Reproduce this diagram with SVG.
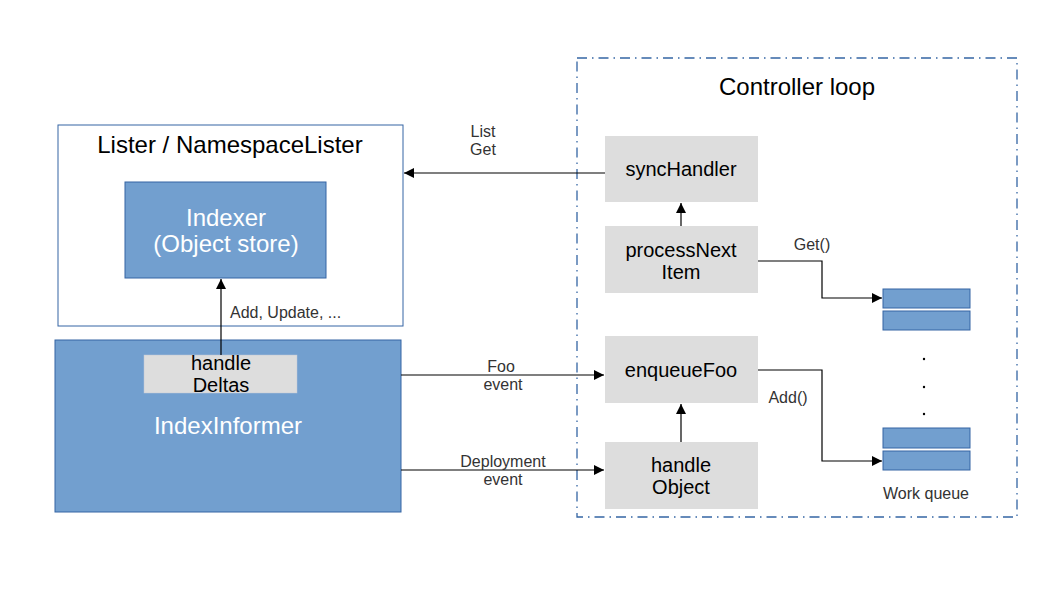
<svg xmlns="http://www.w3.org/2000/svg" width="1058" height="595" viewBox="0 0 1058 595">
<style>
text{font-family:"Liberation Sans",Arial,sans-serif;}
.blue{fill:#729fcf;stroke:#3465a4;stroke-width:1}
.gray{fill:#dddddd;stroke:none}
.title{font-size:24px;fill:#000;text-anchor:middle}
.wt{font-size:24px;fill:#ffffff;text-anchor:middle}
.nt{font-size:20px;fill:#000;text-anchor:middle}
.lbl{font-size:16px;fill:#333;text-anchor:middle}
.edge{fill:none;stroke:#000;stroke-width:1.2}
</style>
<defs>
<marker id="ah" viewBox="0 0 10 10" refX="10" refY="5" markerWidth="16" markerHeight="10" markerUnits="userSpaceOnUse" orient="auto">
<path d="M0,0L10,5L0,10z" fill="#000"/>
</marker>
</defs>
<rect width="1058" height="595" fill="#fff"/>
<g id="controller-loop">
<rect x="577" y="58" width="440" height="459" fill="none" stroke="#3465a4" stroke-width="1.3" stroke-dasharray="10,5,1.5,5"/>
<text class="title" x="797" y="95">Controller loop</text>
</g>
<g id="lister">
<rect x="58" y="125" width="345" height="201" fill="#fff" stroke="#3465a4" stroke-width="1"/>
<text class="title" x="230" y="153">Lister / NamespaceLister</text>
</g>
<g id="indexer">
<rect class="blue" x="125" y="182" width="201" height="96"/>
<text class="wt" x="226" y="226">Indexer</text>
<text class="wt" x="226" y="252">(Object store)</text>
</g>
<g id="indexinformer">
<rect class="blue" x="55" y="340" width="346" height="172"/>
<text class="wt" x="228" y="434">IndexInformer</text>
</g>
<g id="handledeltas">
<rect x="144" y="355" width="153" height="38" fill="#dddddd" stroke="#c0c8d8" stroke-width="0.5"/>
<text class="nt" x="221" y="370">handle</text>
<text class="nt" x="221" y="392">Deltas</text>
</g>
<g id="synchandler">
<rect class="gray" x="605" y="136" width="153" height="66"/>
<text class="nt" x="681" y="176">syncHandler</text>
</g>
<g id="processnextitem">
<rect class="gray" x="605" y="226" width="153" height="67"/>
<text class="nt" x="681" y="257">processNext</text>
<text class="nt" x="681" y="279">Item</text>
</g>
<g id="enqueuefoo">
<rect class="gray" x="605" y="336" width="153" height="67"/>
<text class="nt" x="681" y="377">enqueueFoo</text>
</g>
<g id="handleobject">
<rect class="gray" x="605" y="442" width="153" height="67"/>
<text class="nt" x="681" y="472">handle</text>
<text class="nt" x="681" y="494">Object</text>
</g>
<g id="workqueue">
<rect class="blue" x="883" y="289" width="87" height="19"/>
<rect class="blue" x="883" y="311" width="87" height="19"/>
<circle cx="924" cy="359" r="1.2" fill="#000"/>
<circle cx="924" cy="387" r="1.2" fill="#000"/>
<circle cx="924" cy="414" r="1.2" fill="#000"/>
<rect class="blue" x="883" y="428" width="87" height="20"/>
<rect class="blue" x="883" y="451" width="87" height="19"/>
<text class="lbl" x="926" y="499">Work queue</text>
</g>
<g id="connectors">
<path class="edge" d="M605,173H404" marker-end="url(#ah)"/>
<text class="lbl" x="483" y="137">List</text>
<text class="lbl" x="483" y="155">Get</text>
<path class="edge" d="M681,226V203" marker-end="url(#ah)"/>
<path class="edge" d="M758,261H822V298H882" marker-end="url(#ah)"/>
<text class="lbl" x="812" y="250">Get()</text>
<path class="edge" d="M681,442V404" marker-end="url(#ah)"/>
<path class="edge" d="M758,370H822V461H882" marker-end="url(#ah)"/>
<text class="lbl" x="788" y="403">Add()</text>
<path class="edge" d="M401,375H604" marker-end="url(#ah)"/>
<text class="lbl" x="501" y="372">Foo</text>
<text class="lbl" x="503" y="390">event</text>
<path class="edge" d="M401,470H604" marker-end="url(#ah)"/>
<text class="lbl" x="503" y="467">Deployment</text>
<text class="lbl" x="503" y="485">event</text>
<path class="edge" d="M221,355V279" marker-end="url(#ah)"/>
<text class="lbl" x="230" y="318" style="text-anchor:start">Add, Update, ...</text>
</g>
</svg>
